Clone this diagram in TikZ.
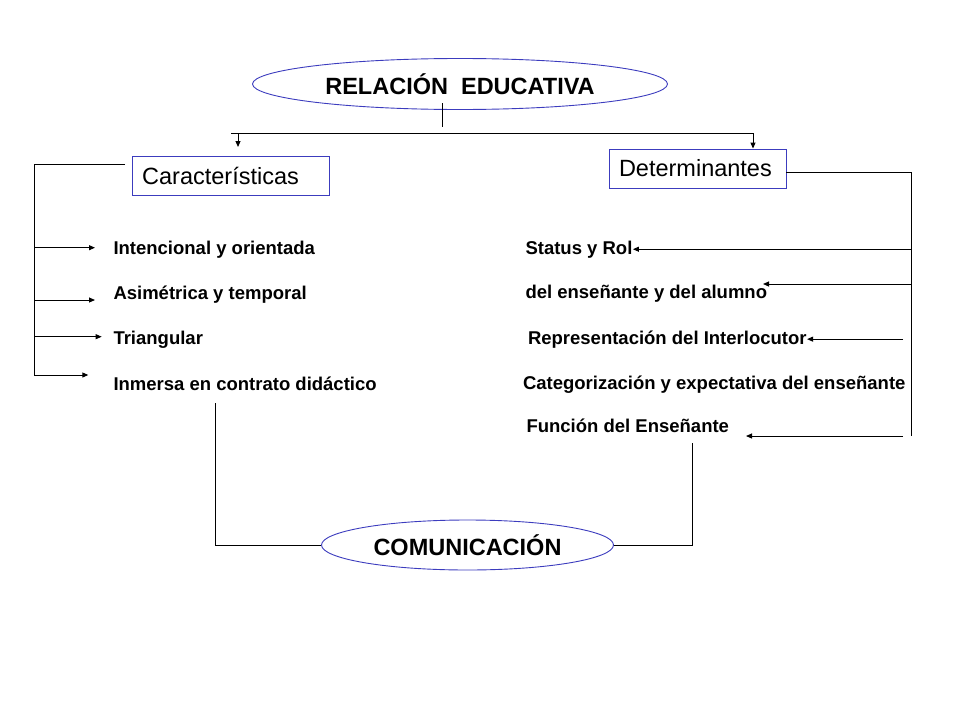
\documentclass[tikz,border=0pt]{standalone}
\usepackage{fontspec}
\setmainfont{Liberation Sans}
\usetikzlibrary{arrows.meta,shapes.geometric}
\definecolor{borde}{RGB}{60,60,190}

\begin{document}
\begin{tikzpicture}[x=1pt,y=-1pt,line width=1pt,
		flecha/.style={-{Triangle[length=6pt,width=5pt]}},
		item/.style={anchor=base west,inner sep=0pt,font=\fontsize{18.5}{22}\selectfont\bfseries},
		elipse/.style={ellipse,draw=borde,line width=0.9pt,inner sep=0pt,font=\fontsize{23.5}{28}\selectfont\bfseries},
		caja/.style={draw=borde,line width=0.9pt,align=left,inner ysep=0pt,font=\fontsize{23.5}{27}\selectfont}]
			%\draw [help lines] (0,0) grid [step=40pt] (960,720);
			\useasboundingbox (0,0) rectangle (960,720);
			\node [elipse,minimum width=415pt,minimum height=51pt] (rel) at (460,84) {RELACIÓN~~EDUCATIVA};
			\node [caja,text width=177pt,inner xsep=10pt,minimum height=39pt] (car) at (230.7,175.5) {Características};
			\node [caja,text width=157pt,inner xsep=10pt,minimum height=39pt] (det) at (697.5,168.5) {Determinantes};
			\node [elipse,minimum width=292pt,minimum height=50pt] (com) at (467.5,545) {COMUNICACIÓN};
			% caracteristicas
			\node [item] (c1) at (113,254) {Intencional y orientada};
			\node [item] (c2) at (113,299.3) {Asimétrica y temporal};
			\node [item] (c3) at (113,344.3) {Triangular};
			\node [item] (c4) at (113,390) {Inmersa en contrato didáctico};
			% determinantes
			\node [item] (d1) at (525,254) {Status y Rol};
			\node [item] (d2) at (525,298) {del enseñante y del alumno};
			\node [item] (d3) at (527.5,344) {Representación del Interlocutor};
			\node [item] (d4) at (522.5,389) {Categorización y expectativa del enseñante};
			\node [item] (d5) at (526,432.5) {Función del Enseñante};
			% arriba
			\coordinate (t0) at (442,103);
			\coordinate (t1) at (442,127);
			\coordinate (hl) at (231,133);
			\coordinate (hr) at (753,133);
			\coordinate (ha) at (238,133);
			\coordinate (hb) at (238,147);
			\draw (t0) -- (t1);
			\draw (hl) -- (hr);
			\draw [flecha] (ha) -- (hb);
			\draw [flecha] (hr) -- (hr |- det.north);
			% izquierda
			\coordinate (i0) at (125,164);
			\coordinate (i1) at (34.3,164);
			\coordinate (q1) at (95,247.7);
			\coordinate (q2) at (95,300);
			\coordinate (q3) at (101.7,336.7);
			\coordinate (q4) at (88.3,375);
			\draw (i0) -- (i1) -- (i1 |- q4);
			\draw [flecha] (q1 -| i1) -- (q1);
			\draw [flecha] (q2 -| i1) -- (q2);
			\draw [flecha] (q3 -| i1) -- (q3);
			\draw [flecha] (q4 -| i1) -- (q4);
			% derecha
			\coordinate (rv0) at (911,172);
			\coordinate (rv1) at (911,436);
			\coordinate (p2) at (763,284);
			\coordinate (p5) at (746,436);
			\draw (det.east |- rv0) -- (rv0) -- (rv1);
			\draw [flecha] (d1.east -| rv0) -- (d1.east);
			\draw [flecha] (p2 -| rv0) -- (p2);
			\draw [flecha] ([xshift=-8pt]d3.east -| rv0) -- (d3.east);
			\draw [flecha] ([xshift=-8pt]p5 -| rv0) -- (p5);
			% abajo
			\coordinate (b1) at (215,403);
			\coordinate (b2) at (692,443);
			\draw (b1) -- (b1 |- com.west) -- (com.west);
			\draw (b2) -- (b2 |- com.east) -- (com.east);
	\end{tikzpicture}
\end{document}
